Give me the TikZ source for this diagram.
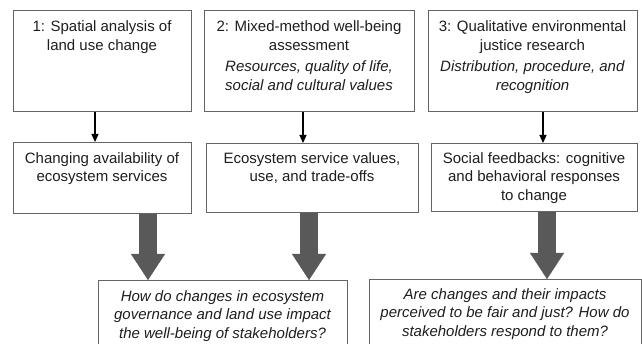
\documentclass[tikz,border=0pt]{standalone}
\usepackage{fontspec}
\setmainfont{Liberation Sans}
\usetikzlibrary{arrows.meta}
\definecolor{boxgray}{RGB}{100,100,100}
\definecolor{arrgray}{RGB}{89,89,89}
\definecolor{txtcol}{RGB}{30,30,30}
\begin{document}
\begin{tikzpicture}[x=1pt,y=-1pt,
  box/.style={draw=boxgray, line width=1.1pt, fill=white, inner sep=0pt, anchor=north west},
  txtnode/.style={anchor=north, align=center, inner sep=0pt, text=txtcol, font=\fontsize{15}{18.5}\selectfont},
  thinarrow/.style={line width=1.2pt, black, -{Triangle[length=8pt,width=7pt]}},
  bigarrow/.style={line width=18pt, arrgray, -{Triangle[length=26pt,width=34pt,line width=0.1pt]}}]
\useasboundingbox (0,0) rectangle (642,344);
\fill[white] (0,0) rectangle (642,344);

% top boxes
\node[box, minimum width=178pt, minimum height=101pt] (t1) at (13,10) {};
\node[box, minimum width=210pt, minimum height=101pt] (t2) at (204,10) {};
\node[box, minimum width=209pt, minimum height=101pt] (t3) at (428,10) {};
\node[txtnode] (t1txt) at (102,20.5) {1: Spatial analysis of\\land use change};
\node[txtnode] (t2txt) at (309,20.5) {2: Mixed-method well-being\\assessment\\[3pt]\textit{Resources, quality of life,}\\\textit{social and cultural values}};
\node[txtnode] (t3txt) at (532.5,20.5) {3: Qualitative environmental\\justice research\\[3pt]\textit{Distribution, procedure, and}\\\textit{recognition}};

% middle boxes
\node[box, minimum width=178pt, minimum height=71pt] (l1) at (13,142) {};
\node[box, minimum width=212pt, minimum height=69pt] (l2) at (206,143) {};
\node[box, minimum width=206pt, minimum height=68pt] (l3) at (431,143) {};
\node[txtnode] (l1txt) at (102,152) {Changing availability of\\ecosystem services};
\node[txtnode] (l2txt) at (312,152) {Ecosystem service values,\\use, and trade-offs};
\node[txtnode] (l3txt) at (534,152) {Social feedbacks: cognitive\\and behavioral responses\\to change};

% bottom boxes
\node[box, minimum width=249pt, minimum height=80pt] (q1) at (98,280) {};
\node[box, minimum width=272pt, minimum height=80pt] (q2) at (369,279) {};
\node[txtnode, font=\fontsize{15}{18.5}\selectfont\itshape] (q1txt) at (222.5,290) {How do changes in ecosystem\\governance and land use impact\\the well-being of stakeholders?};
\node[txtnode, font=\fontsize{15}{18.5}\selectfont\itshape] (q2txt) at (505,288) {Are changes and their impacts\\perceived to be fair and just? How do\\stakeholders respond to them?};

% arrow positions
\coordinate (x1) at (95,0);
\coordinate (x2) at (303,0);
\coordinate (x3) at (543,0);
\coordinate (b1) at (148,0);
\coordinate (b2) at (309,0);
\coordinate (b3) at (547,0);

\draw[thinarrow] (t1.south -| x1) -- (l1.north -| x1);
\draw[thinarrow] (t2.south -| x2) -- (l2.north -| x2);
\draw[thinarrow] (t3.south -| x3) -- (l3.north -| x3);

\draw[bigarrow] (l1.south -| b1) -- (q1.north -| b1);
\draw[bigarrow] (l2.south -| b2) -- (q1.north -| b2);
\draw[bigarrow] (l3.south -| b3) -- (q2.north -| b3);
\end{tikzpicture}
\end{document}
